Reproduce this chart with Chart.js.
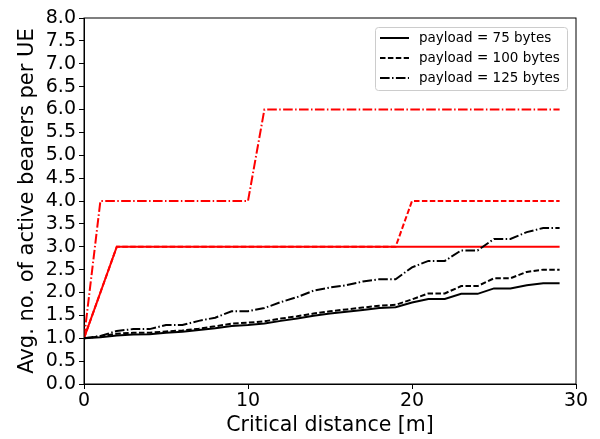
<!DOCTYPE html>
<html>
<head>
<meta charset="utf-8">
<script src="https://cdn.jsdelivr.net/npm/chart.js@4.4.0/dist/chart.umd.min.js"></script>
<style>
  html, body { margin: 0; padding: 0; background: #fff; }
  #wrap { width: 600px; height: 439px; }
</style>
</head>
<body>
<div id="wrap"><canvas id="linechart" width="600" height="439"></canvas></div>
<script>
// critical distance [m]
const distances = [0,1,2,3,4,5,6,7,8,9,10,11,12,13,14,15,16,17,18,19,20,21,22,23,24,25,26,27,28,29];

// measured avg. active bearers per UE
const bearers75  = [1.0,1.02,1.06,1.08,1.09,1.12,1.14,1.18,1.22,1.27,1.29,1.32,1.38,1.43,1.49,1.54,1.58,1.62,1.66,1.68,1.78,1.86,1.86,1.97,1.97,2.09,2.09,2.16,2.2,2.2];
const bearers100 = [1.0,1.04,1.1,1.12,1.12,1.15,1.17,1.21,1.26,1.32,1.34,1.37,1.43,1.48,1.54,1.59,1.63,1.67,1.71,1.73,1.85,1.98,1.98,2.14,2.14,2.31,2.31,2.45,2.5,2.5];
const bearers125 = [1.0,1.05,1.16,1.2,1.2,1.29,1.29,1.38,1.45,1.59,1.59,1.66,1.79,1.9,2.04,2.11,2.16,2.24,2.29,2.29,2.55,2.69,2.69,2.92,2.92,3.17,3.17,3.32,3.41,3.41];

// upper bound (red)
const bound75  = [1,2,3,3,3,3,3,3,3,3,3,3,3,3,3,3,3,3,3,3,3,3,3,3,3,3,3,3,3,3];
const bound100 = [1,2,3,3,3,3,3,3,3,3,3,3,3,3,3,3,3,3,3,3,4,4,4,4,4,4,4,4,4,4];
const bound125 = [1,4,4,4,4,4,4,4,4,4,4,6,6,6,6,6,6,6,6,6,6,6,6,6,6,6,6,6,6,6];

const legendLabels = ['payload = 75 bytes', 'payload = 100 bytes', 'payload = 125 bytes'];

const dashed = [5.5, 2.4];
const dashdot = [9.6, 2.4, 1.5, 2.4];

function pts(arr) {
    return distances.map((d, i) => ({x: d, y: arr[i]}));
}

const font = 'DejaVu Sans';

// box around plot + legend inside (top right)
const framePlugin = {
    id: 'frame',
    afterDraw(chart) {
        const c = chart.ctx, a = chart.chartArea;
        c.save();
        c.strokeStyle = '#000';
        c.lineWidth = 1;
        c.strokeRect(a.left, a.top, a.right - a.left, a.bottom - a.top);

        // legend
        const items = chart.data.datasets.filter(d => d.showInLegend);
        const bx = 375, by = 27, bw = 192, bh = 63;
        c.fillStyle = 'rgba(255,255,255,0.8)';
        c.strokeStyle = '#ccc';
        c.beginPath();
        c.roundRect(bx + 0.5, by + 0.5, bw, bh, 3);
        c.fill();
        c.stroke();
        c.font = '13.5px "' + font + '"';
        c.textBaseline = 'middle';
        items.forEach((d, i) => {
            const y = by + 11 + i * 20;
            c.strokeStyle = d.borderColor;
            c.lineWidth = d.borderWidth;
            c.setLineDash(d.borderDash || []);
            c.beginPath();
            c.moveTo(bx + 5, y);
            c.lineTo(bx + 34, y);
            c.stroke();
            c.setLineDash([]);
            c.fillStyle = '#000';
            c.fillText(d.label, bx + 44, y);
        });
        c.restore();
    }
};

const ctx = document.getElementById('linechart');
const myChart = new Chart(ctx, {
    type: 'line',
    data: {
        datasets: [
            {label: legendLabels[0], data: pts(bearers75), borderColor: '#000', borderWidth: 2, showInLegend: true},
            {label: legendLabels[1], data: pts(bearers100), borderColor: '#000', borderWidth: 2, borderDash: dashed, showInLegend: true},
            {label: legendLabels[2], data: pts(bearers125), borderColor: '#000', borderWidth: 2, borderDash: dashdot, showInLegend: true},
            {label: 'bound 75', data: pts(bound75), borderColor: '#ff0000', borderWidth: 2},
            {label: 'bound 100', data: pts(bound100), borderColor: '#ff0000', borderWidth: 2, borderDash: dashed},
            {label: 'bound 125', data: pts(bound125), borderColor: '#ff0000', borderWidth: 2, borderDash: dashdot}
        ]
    },
    options: {
        responsive: false,
        animation: false,
        elements: {point: {radius: 0}, line: {tension: 0, fill: false}},
        layout: {padding: {left: 0, right: 24, top: 18, bottom: 0}},
        plugins: {legend: {display: false}, tooltip: {enabled: false}},
        scales: {
            x: {
                type: 'linear',
                min: 0, max: 30,
                ticks: {stepSize: 10, color: '#000', font: {family: font, size: 19}, padding: 1, maxRotation: 0, autoSkip: false},
                grid: {drawOnChartArea: false, drawTicks: true, tickLength: 5, color: '#000'},
                border: {display: true, color: '#000'},
                title: {display: true, text: 'Critical distance [m]', color: '#000', font: {family: font, size: 20.5}, padding: {top: 0, bottom: 1}},
                afterFit(s) { s.height = 55; }
            },
            y: {
                min: 0, max: 8,
                ticks: {stepSize: 0.5, color: '#000', font: {family: font, size: 19}, padding: 3, autoSkip: false,
                        callback: v => v.toFixed(1)},
                grid: {drawOnChartArea: false, drawTicks: true, tickLength: 5, color: '#000'},
                border: {display: true, color: '#000'},
                title: {display: true, text: 'Avg. no. of active bearers per UE', color: '#000', font: {family: font, size: 21}, padding: {top: 15, bottom: 4}},
                afterFit(s) { s.width = 84; }
            }
        }
    },
    plugins: [framePlugin]
});
</script>
</body>
</html>
